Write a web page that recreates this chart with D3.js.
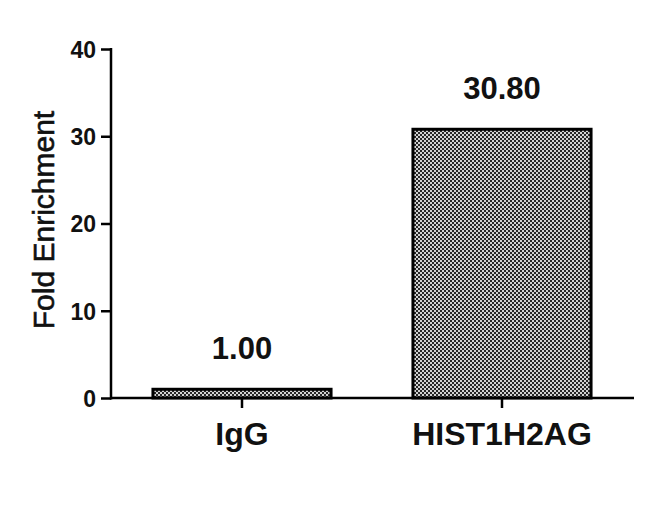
<!DOCTYPE html>
<html><head><meta charset="utf-8">
<script src="https://cdn.jsdelivr.net/npm/d3@7"></script>
<style>body{margin:0;background:#fff}svg{display:block}text{font-family:"Liberation Sans",Arial,sans-serif;fill:#111}</style>
</head><body>
<script>
const categories = ["IgG", "HIST1H2AG"];
const values = [1.00, 30.80];
const valueLabels = ["1.00", "30.80"];
const yTicks = [0, 10, 20, 30, 40];
const yTitle = "Fold Enrichment";

const W = 650, H = 519;
const svg = d3.select("body").append("svg").attr("width", W).attr("height", H);

const defs = svg.append("defs");
const pat = defs.append("pattern").attr("id", "chk").attr("patternUnits", "userSpaceOnUse")
  .attr("width", 4).attr("height", 4);
pat.append("rect").attr("width", 4).attr("height", 4).attr("fill", "#262626");
pat.append("rect").attr("x", 0).attr("y", 0).attr("width", 2).attr("height", 2).attr("fill", "#d2d2d2");
pat.append("rect").attr("x", 2).attr("y", 2).attr("width", 2).attr("height", 2).attr("fill", "#d2d2d2");

const x = d3.scaleBand().domain(categories).range([112, 632]).paddingInner(0.315).paddingOuter(0.1575);
const y = d3.scaleLinear().domain([0, 40]).range([398, 49]);

// bars
svg.selectAll("rect.bar").data(categories).join("rect").attr("class", "bar")
  .attr("x", d => x(d)).attr("width", x.bandwidth())
  .attr("y", (d, i) => y(values[i])).attr("height", (d, i) => y(0) - y(values[i]))
  .attr("fill", "url(#chk)").attr("stroke", "#000").attr("stroke-width", 3);

// y axis
const yAxis = svg.append("g").attr("transform", "translate(111,0)")
  .call(d3.axisLeft(y).tickValues(yTicks).tickFormat(d3.format("d")).tickSize(10).tickPadding(5));
yAxis.select(".domain").remove();
yAxis.selectAll(".tick line").attr("stroke", "#000").attr("stroke-width", 2.5);
yAxis.selectAll(".tick text").style("font-size", "23px").style("font-weight", "bold")
  .attr("dy", "0.36em");
svg.append("line").attr("x1", 111).attr("x2", 111).attr("y1", y(40) - 1).attr("y2", y(0) + 1.5)
  .attr("stroke", "#000").attr("stroke-width", 2.5);

// x axis
const xAxis = svg.append("g").attr("transform", `translate(0,${y(0)})`)
  .call(d3.axisBottom(x).tickSize(10).tickPadding(14));
xAxis.select(".domain").remove();
xAxis.selectAll(".tick line").attr("stroke", "#000").attr("stroke-width", 2.5);
xAxis.selectAll(".tick text").style("font-size", "32px").style("font-weight", "bold");
svg.append("line").attr("x1", 110).attr("x2", 634).attr("y1", y(0)).attr("y2", y(0))
  .attr("stroke", "#000").attr("stroke-width", 2.5);

// value labels
svg.selectAll("text.val").data(categories).join("text").attr("class", "val")
  .attr("x", d => x(d) + x.bandwidth() / 2)
  .attr("y", (d, i) => y(values[i]) - 30)
  .attr("text-anchor", "middle").style("font-size", "31px").style("font-weight", "bold")
  .text((d, i) => valueLabels[i]);

// y title
svg.append("text").attr("transform", "translate(54,220) rotate(-90)")
  .attr("text-anchor", "middle").style("font-size", "30px")
  .attr("stroke", "#111").attr("stroke-width", 0.6).text(yTitle);
</script>
</body></html>
